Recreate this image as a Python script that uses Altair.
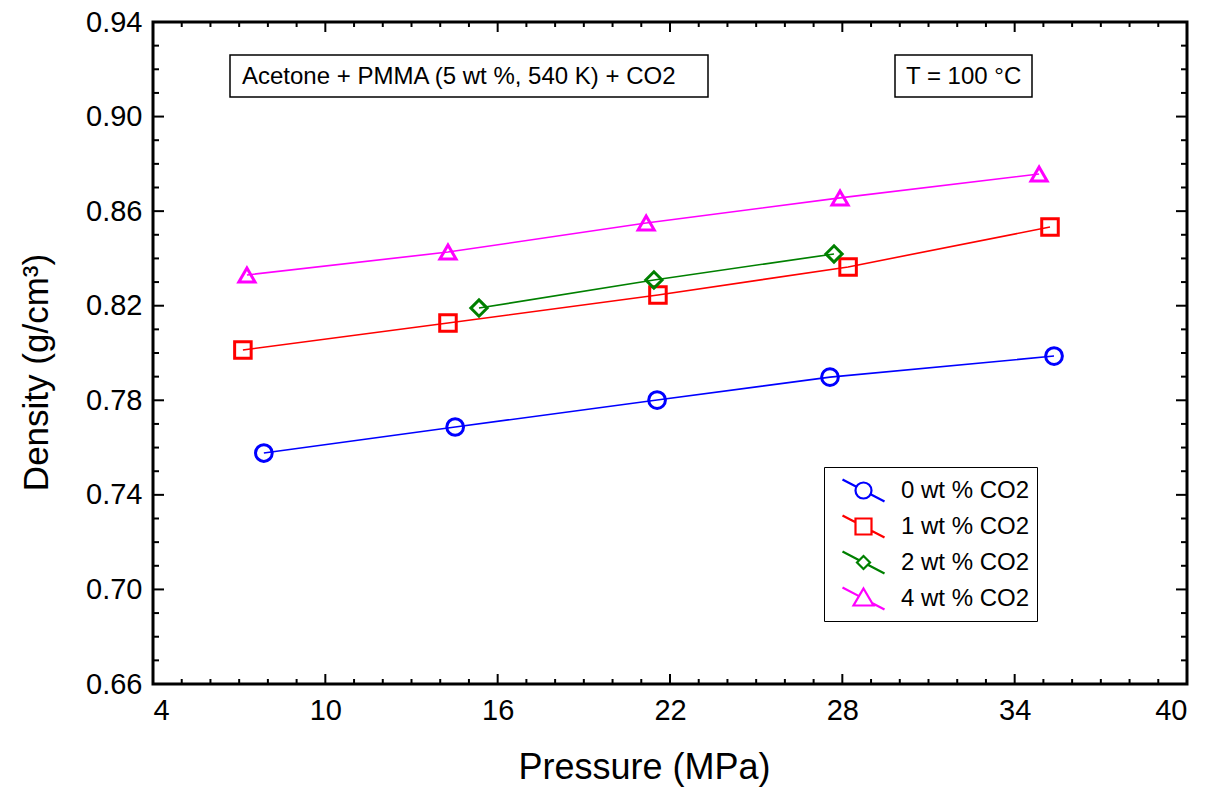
import altair as alt
import pandas as pd

# ---------------- data ----------------
series_names = ["0 wt % CO2", "1 wt % CO2", "2 wt % CO2", "4 wt % CO2"]
series_colors = ["#0000FF", "#FF0000", "#008000", "#FF00FF"]

p_0 = [7.86, 14.52, 21.55, 27.57, 35.37]
d_0 = [0.7577, 0.7687, 0.7801, 0.7898, 0.7987]

p_1 = [7.13, 14.27, 21.58, 28.20, 35.23]
d_1 = [0.8013, 0.8127, 0.8245, 0.8364, 0.8533]

p_2 = [15.35, 21.44, 27.71]
d_2 = [0.8190, 0.8309, 0.8419]

p_4 = [7.27, 14.27, 21.17, 27.92, 34.85]
d_4 = [0.8330, 0.8427, 0.8550, 0.8656, 0.8757]

x_major = [4, 10, 16, 22, 28, 34, 40]
x_minor = [v for v in range(5, 40) if v not in x_major]
y_major = [0.66, 0.70, 0.74, 0.78, 0.82, 0.86, 0.90, 0.94]
y_minor = [0.67, 0.68, 0.69, 0.71, 0.72, 0.73, 0.75, 0.76, 0.77, 0.79, 0.80, 0.81,
           0.83, 0.84, 0.85, 0.87, 0.88, 0.89, 0.91, 0.92, 0.93]

annot_text = ["Acetone + PMMA (5 wt %, 540 K) + CO2", "T = 100 °C"]

# ---------------- tables ----------------
rows = []
for name, ps, ds in zip(series_names, [p_0, p_1, p_2, p_4], [d_0, d_1, d_2, d_4]):
    for p, d in zip(ps, ds):
        rows.append({"P": p, "D": d, "series": name})
df = pd.DataFrame(rows)

W, H = 1034, 662
FONT = "Liberation Sans"

xscale = alt.Scale(domain=[4, 40], nice=False, zero=False)
yscale = alt.Scale(domain=[0.66, 0.94], nice=False, zero=False)
cscale = alt.Scale(domain=series_names, range=series_colors)

x_axis = alt.Axis(values=x_major, title="Pressure (MPa)", labelPadding=12,
                  titleFontSize=36, titleFontWeight="normal", titleBaseline="alphabetic",
                  titleY=94, titleX=491)
y_axis = alt.Axis(values=y_major, format=".2f", title="Density (g/cm³)", labelPadding=11,
                  titleFontSize=35, titleFontWeight="normal", titleBaseline="alphabetic",
                  titleAngle=-90, titleX=-106, titleY=350)


def X(field):
    return alt.X(field, scale=xscale, axis=x_axis)


def Y(field):
    return alt.Y(field, scale=yscale, axis=y_axis)


lines = alt.Chart(df).mark_line(strokeWidth=1.6).encode(
    x=X("P:Q"), y=Y("D:Q"),
    color=alt.Color("series:N", scale=cscale, legend=None),
    detail="series:N",
)

points = alt.Chart(df).mark_point(filled=False, opacity=1).encode(
    x=X("P:Q"), y=Y("D:Q"),
    color=alt.Color("series:N", scale=cscale, legend=None),
    shape=alt.Shape("series:N", scale=alt.Scale(domain=series_names,
                    range=["circle", "square", "diamond", "triangle-up"]), legend=None),
    size=alt.Size("series:N", scale=alt.Scale(domain=series_names, range=[280, 260, 220, 330]), legend=None),
    strokeWidth=alt.StrokeWidth("series:N", scale=alt.Scale(domain=series_names, range=[3, 3, 2.2, 3]), legend=None),
)


# legend symbols: marker with a diagonal line through it (pixel geometry -> symbol units, r = 15 px)
def pt(x, y):
    return f"{(x + 16) / 15:.3f},{y / 15:.3f}"


line_gap = lambda a, b: f"M{pt(-21, -11)}L{pt(-a, -b)}M{pt(a, b)}L{pt(21, 11)}"
leg_paths = [
    line_gap(7.08, 3.68) + f"M{pt(8, 0)}A0.533,0.533 0 1,1 {pt(-8, 0)}A0.533,0.533 0 1,1 {pt(8, 0)}Z",
    line_gap(8, 4.19) + f"M{pt(-8, -8)}L{pt(8, -8)}L{pt(8, 8)}L{pt(-8, 8)}Z",
    line_gap(4.27, 2.24) + f"M{pt(0, -6.5)}L{pt(6.5, 0)}L{pt(0, 6.5)}L{pt(-6.5, 0)}Z",
    f"M{pt(-21, -11)}L{pt(-4.5, -2.35)}M{pt(8.48, 4.44)}L{pt(21, 11)}"
    + f"M{pt(0, -10)}L{pt(10, 7)}L{pt(-10, 7)}Z",
]
legend_spec = alt.Legend(title=None, orient="none", legendX=671, legendY=445,
                         labelFont=FONT, labelFontSize=24, labelColor="black",
                         symbolSize=900, symbolStrokeWidth=2.2, labelOffset=37,
                         rowPadding=4, padding=7, strokeColor="black", fillColor="white",
                         symbolOpacity=1)
legend_layer = alt.Chart(df).transform_filter("false").mark_point(filled=False).encode(
    x=X("P:Q"), y=Y("D:Q"),
    color=alt.Color("series:N", scale=alt.Scale(domain=series_names, range=series_colors), legend=legend_spec),
    shape=alt.Shape("series:N", scale=alt.Scale(domain=series_names, range=leg_paths), legend=legend_spec),
)

# tick marks (inside, on all four sides)
xmaj = pd.DataFrame({"v": x_major})
xmin = pd.DataFrame({"v": x_minor})
ymaj = pd.DataFrame({"v": y_major})
ymin = pd.DataFrame({"v": y_minor})


def xticks(data, y0, y1):
    return alt.Chart(data).mark_rule(color="black", strokeWidth=2).encode(
        x=X("v:Q"), y=alt.value(y0), y2=alt.value(y1))


def yticks(data, x0, x1):
    return alt.Chart(data).mark_rule(color="black", strokeWidth=2).encode(
        y=Y("v:Q"), x=alt.value(x0), x2=alt.value(x1))


ticks = [
    xticks(xmaj, H, H - 10), xticks(xmin, H, H - 5),
    xticks(xmaj, 0, 10), xticks(xmin, 0, 5),
    yticks(ymaj, 0, 11), yticks(ymin, 0, 6),
    yticks(ymaj, W, W - 11), yticks(ymin, W, W - 6),
]

# annotation boxes
box1 = alt.Chart(pd.DataFrame({"t": [annot_text[0]]})).mark_rect(
    fill="white", stroke="black", strokeWidth=1.5).encode(
    x=alt.value(77), x2=alt.value(555), y=alt.value(33), y2=alt.value(75))
txt1 = alt.Chart(pd.DataFrame({"t": [annot_text[0]]})).mark_text(
    font=FONT, fontSize=24, align="left", baseline="middle", color="black").encode(
    x=alt.value(89), y=alt.value(55), text="t:N")
box2 = alt.Chart(pd.DataFrame({"t": [annot_text[1]]})).mark_rect(
    fill="white", stroke="black", strokeWidth=1.5).encode(
    x=alt.value(742), x2=alt.value(879), y=alt.value(33), y2=alt.value(75))
txt2 = alt.Chart(pd.DataFrame({"t": [annot_text[1]]})).mark_text(
    font=FONT, fontSize=24, align="left", baseline="middle", color="black").encode(
    x=alt.value(753), y=alt.value(55), text="t:N")

chart = alt.layer(
    lines, points, *ticks, box1, txt1, box2, txt2, legend_layer
).resolve_scale(
    color="independent", shape="independent"
).properties(
    width=W, height=H,
    autosize=alt.AutoSizeParams(type="none"),
    padding={"left": 153, "top": 22, "right": 27, "bottom": 108},
    background="white",
).configure_view(
    stroke="black", strokeWidth=3
).configure_axis(
    domain=False, ticks=False, grid=False,
    labelFont=FONT, labelFontSize=29, labelColor="black",
    titleFont=FONT, titleColor="black",
)

chart.save("out.html", embed_options={"renderer": "svg", "actions": False})
